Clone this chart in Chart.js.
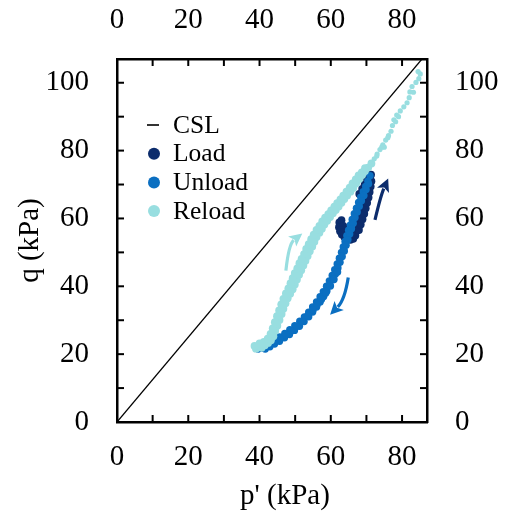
<!DOCTYPE html>
<html><head><meta charset="utf-8">
<script src="https://cdn.jsdelivr.net/npm/chart.js@4/dist/chart.umd.min.js"></script>
<style>html,body{margin:0;padding:0;background:#fff}#wrap{width:510px;height:515px;position:relative}</style>
</head><body><div id="wrap"><canvas id="c"></canvas></div>
<script>
// ---- data (p' and q in kPa) ----
const xTicksMajor = [0, 20, 40, 60, 80];
const yTicksMajor = [0, 20, 40, 60, 80, 100];
const seriesNames = ['CSL', 'Load', 'Unload', 'Reload'];

const cslP = [0, 90];
const cslQ = [0, 112.5];

const loadP = [62.4,62.3,62.6,63.1,63.8,64.6,65.5,66.3,66.9,67.3,67.7,68.1,68.6,69.0,69.4,69.8,70.1,70.4,70.7,71.0,71.3,
  63.0,63.5,64.4,66.0,67.9,68.4,68.9,69.4,69.8,70.2,70.6,70.9,71.2,71.4,68.0,68.8,69.5,70.2,62.9,63.6,65.0];
const loadQ = [58.8,57.4,56.2,55.3,54.5,54.0,53.7,54.0,55.0,56.4,57.9,59.4,60.9,62.5,64.0,65.6,67.2,68.8,70.4,71.9,72.9,
  59.5,57.8,55.2,55.2,56.6,58.2,59.8,61.4,63.0,64.6,66.2,67.8,69.4,71.0,67.2,68.7,70.0,71.5,56.6,56.0,54.6];

const unloadP = [71.0,70.4,69.8,69.1,68.4,67.8,67.2,66.6,66.0,65.5,65.0,64.5,64.0,63.5,63.0,62.4,61.8,61.1,60.4,59.6,58.8,57.9,57.0,56.0,54.9,53.8,52.6,51.3,49.9,48.5,47.1,45.7,44.3,43.0,41.7,40.5,39.6,
  70.6,69.9,69.3,68.6,68.0,67.4,66.8,66.3,65.8,65.3,64.8,64.3,63.8,63.2,62.6,62.0,61.3,60.5,59.7,58.9,58.0,57.0,56.0,54.9,53.8,52.5,51.2,49.8,48.4,47.0,45.6,44.2,42.9,41.6,
  61.9,60.9,59.9,58.6,57.4,56.2,55.0,53.6,52.0,50.4,48.9,47.3,45.7,44.0];
const unloadQ = [72.6,71.0,69.4,67.9,66.3,64.7,63.0,61.4,59.7,58.1,56.5,54.9,53.2,51.6,50.0,48.3,46.6,44.9,43.2,41.6,40.0,38.4,36.9,35.4,33.9,32.4,31.0,29.7,28.4,27.2,26.1,25.1,24.1,23.2,22.5,21.9,21.5,
  70.2,68.5,66.8,65.2,63.6,61.9,60.3,58.6,57.0,55.4,53.7,52.1,50.4,48.8,47.1,45.4,43.6,41.9,40.3,38.6,37.0,35.4,33.9,32.4,31.0,29.6,28.2,27.0,25.8,24.8,23.8,23.0,22.2,21.5,
  44.2,42.0,40.1,38.0,36.2,34.6,33.0,31.4,29.6,28.2,26.8,25.7,24.6,23.5];

const reloadP = [39.0,39.8,40.6,41.5,42.4,43.2,43.9,44.4,45.0,45.6,46.2,46.7,47.3,47.9,48.6,49.3,49.9,50.5,51.1,51.7,52.3,52.9,53.5,54.1,54.8,55.4,56.0,56.8,57.5,58.2,59.0,59.8,60.6,61.4,62.2,63.0,63.8,64.6,65.5,66.3,67.1,68.0,68.8,69.6,70.5,71.4,72.2,73.0,73.8,74.6,75.4,76.2,76.9,77.3,77.7,78.5,79.5,80.5,81.4,82.0,82.2,82.8,83.9,84.7,85.1,84.5,
  38.6,40.0,41.2,42.3,43.1,43.7,44.3,44.9,45.5,46.1,46.7,47.4,48.1,48.7,49.3,49.9,50.6,51.2,51.8,52.5,53.1,53.8,54.5,55.2,56.0,56.8,57.6,58.4,59.3,60.1,61.0,61.8,62.7,63.5,64.4,65.3,66.1,67.0,67.8,68.7,69.6,
  72.9,74.3,75.0,76.0,78.2,79.0,83.2];
const reloadQ = [21.6,22.4,21.9,22.6,23.3,24.1,25.3,26.9,28.4,30.1,31.8,33.4,35.0,36.5,37.8,39.1,40.5,42.0,43.4,44.7,46.1,47.5,48.9,50.3,51.7,53.1,54.5,55.8,57.0,58.2,59.3,60.4,61.5,62.5,63.5,64.6,65.7,66.8,67.9,69.0,70.3,71.6,72.8,74.0,75.0,76.2,77.6,79.0,80.3,81.7,83.1,84.4,85.7,87.4,89.1,90.5,91.7,92.9,94.1,95.6,97.3,98.9,100.1,101.2,102.6,103.3,
  22.4,23.2,23.6,24.6,26.0,27.6,29.4,31.2,32.9,34.7,36.3,37.9,39.4,40.9,42.4,43.9,45.3,46.8,48.1,49.5,51.0,52.4,53.9,55.2,56.6,57.8,59.1,60.2,61.3,62.4,63.5,64.5,65.6,66.7,67.9,69.1,70.3,71.5,72.7,73.6,74.8,
  78.4,81.0,81.0,83.8,88.5,90.0,97.2];

// direction arrows (data coordinates: tail, control, tip)
const arrowLoad   = [[72.4, 59.6], [74.0, 66.7], [76.1, 71.8]];
const arrowUnload = [[64.9, 42.6], [63.9, 36.0], [59.8, 31.6]];
const arrowReload = [[47.4, 44.6], [48.2, 52.4], [52.0, 55.6]];

const colors = { csl: '#000000', load: '#0c2c6c', unload: '#0b6fc1', reload: '#98dee0' };
const FONT = "'Liberation Serif', 'Times New Roman', serif";

const pts = (xs, ys) => xs.map((x, i) => ({ x, y: ys[i] }));

const inwardTicks = {
  id: 'inwardTicks',
  afterDraw(chart) {
    const ctx = chart.ctx, a = chart.chartArea, TL = 7;
    ctx.save();
    ctx.strokeStyle = '#000'; ctx.lineWidth = 2;
    ['x', 'x2', 'y', 'y2'].forEach(id => {
      const s = chart.scales[id];
      s.ticks.forEach(t => {
        if (t.value <= s.min || t.value >= s.max) return;
        const p = s.getPixelForValue(t.value);
        ctx.beginPath();
        if (id === 'x') { ctx.moveTo(p, a.bottom); ctx.lineTo(p, a.bottom - TL); }
        if (id === 'x2') { ctx.moveTo(p, a.top); ctx.lineTo(p, a.top + TL); }
        if (id === 'y') { ctx.moveTo(a.left, p); ctx.lineTo(a.left + TL, p); }
        if (id === 'y2') { ctx.moveTo(a.right, p); ctx.lineTo(a.right - TL, p); }
        ctx.stroke();
      });
    });
    ctx.restore();
  }
};

const arrows = {
  id: 'arrows',
  afterDatasetsDraw(chart) {
    const ctx = chart.ctx, xs = chart.scales.x, ys = chart.scales.y;
    const px = v => [xs.getPixelForValue(v[0]), ys.getPixelForValue(v[1])];
    [[arrowLoad, colors.load], [arrowUnload, colors.unload], [arrowReload, colors.reload]].forEach(([arr, col]) => {
      const [t, c, h] = arr.map(px);
      const ang = Math.atan2(h[1] - c[1], h[0] - c[0]);
      const L = 13, W = 6.5;
      const bx = h[0] - L * Math.cos(ang), by = h[1] - L * Math.sin(ang);
      ctx.save();
      ctx.strokeStyle = col; ctx.fillStyle = col; ctx.lineWidth = 3.2; ctx.lineCap = 'butt';
      ctx.beginPath(); ctx.moveTo(t[0], t[1]);
      ctx.quadraticCurveTo(c[0], c[1], bx + 2 * Math.cos(ang), by + 2 * Math.sin(ang));
      ctx.stroke();
      ctx.beginPath();
      ctx.moveTo(h[0], h[1]);
      ctx.lineTo(bx + W * Math.sin(ang), by - W * Math.cos(ang));
      ctx.lineTo(bx + 3 * Math.cos(ang), by + 3 * Math.sin(ang));
      ctx.lineTo(bx - W * Math.sin(ang), by + W * Math.cos(ang));
      ctx.closePath(); ctx.fill();
      ctx.restore();
    });
  }
};

const legendInside = {
  id: 'legendInside',
  afterDraw(chart) {
    const ctx = chart.ctx, a = chart.chartArea;
    const cx = a.left + 37, tx = a.left + 56, y0 = a.top + 66, gap = 28.7;
    ctx.save();
    ctx.font = "25.5px " + FONT; ctx.textBaseline = 'middle'; ctx.textAlign = 'left';
    chart.data.datasets.forEach((ds, i) => {
      const y = y0 + i * gap;
      if (ds.type === 'line') {
        ctx.strokeStyle = ds.borderColor; ctx.lineWidth = 1.6;
        ctx.beginPath(); ctx.moveTo(cx - 7, y); ctx.lineTo(cx + 5, y); ctx.stroke();
      } else {
        ctx.fillStyle = ds.backgroundColor;
        ctx.beginPath(); ctx.arc(cx, y, 6, 0, Math.PI * 2); ctx.fill();
      }
      ctx.fillStyle = '#000';
      ctx.fillText(ds.label, tx, y + 1);
    });
    ctx.restore();
  }
};

const xTitle = {
  id: 'xTitle',
  afterDraw(chart) {
    const ctx = chart.ctx, a = chart.chartArea;
    ctx.save();
    ctx.font = "29px " + FONT; ctx.fillStyle = '#000';
    ctx.textAlign = 'center'; ctx.textBaseline = 'middle';
    ctx.fillText("p' (kPa)", (a.left + a.right) / 2 + 13, chart.height - 19);
    ctx.restore();
  }
};

const tickFont = { family: FONT, size: 29 };
const labelEvery20 = v => (v % 20 === 0 ? String(v) : '');
const dotSize = c => (c.raw && c.raw.y > 77 ? 2.6 : 3.9);

new Chart(document.getElementById('c'), {
  type: 'scatter',
  data: {
    datasets: [
      { type: 'line', label: seriesNames[0], data: pts(cslP, cslQ), borderColor: colors.csl, borderWidth: 1.3,
        pointRadius: 0, fill: false, order: 4, xAxisID: 'x', yAxisID: 'y' },
      { label: seriesNames[1], data: pts(loadP, loadQ), backgroundColor: colors.load, borderWidth: 0,
        pointRadius: 3.9, order: 3, xAxisID: 'x', yAxisID: 'y' },
      { label: seriesNames[2], data: pts(unloadP, unloadQ), backgroundColor: colors.unload, borderWidth: 0,
        pointRadius: 3.7, order: 2, xAxisID: 'x', yAxisID: 'y' },
      { label: seriesNames[3], data: pts(reloadP, reloadQ), backgroundColor: colors.reload, borderWidth: 0,
        pointRadius: dotSize, order: 1, xAxisID: 'x', yAxisID: 'y' }
    ]
  },
  options: {
    responsive: true, maintainAspectRatio: false, animation: false,
    layout: { padding: 0 },
    plugins: { legend: { display: false }, tooltip: { enabled: false } },
    scales: {
      x: { type: 'linear', position: 'bottom', min: 0, max: 87,
        ticks: { stepSize: 10, autoSkip: false, includeBounds: false, callback: labelEvery20, font: tickFont, color: '#000', padding: 18, maxRotation: 0 },
        grid: { drawOnChartArea: false, drawTicks: false },
        border: { display: true, color: '#000', width: 2.5 },
        afterFit: s => { s.height = 93; } },
      x2: { type: 'linear', position: 'top', min: 0, max: 87,
        ticks: { stepSize: 10, autoSkip: false, includeBounds: false, callback: labelEvery20, font: tickFont, color: '#000', padding: 21, maxRotation: 0 },
        grid: { drawOnChartArea: false, drawTicks: false },
        border: { display: true, color: '#000', width: 2.5 },
        afterFit: s => { s.height = 59; } },
      y: { type: 'linear', position: 'left', min: 0, max: 107,
        ticks: { stepSize: 10, autoSkip: false, includeBounds: false, callback: labelEvery20, font: tickFont, color: '#000', padding: 28 },
        grid: { drawOnChartArea: false, drawTicks: false },
        border: { display: true, color: '#000', width: 2.5 },
        title: { display: true, text: 'q (kPa)', font: tickFont, color: '#000', padding: { top: 13, bottom: 0 } },
        afterFit: s => { s.width = 117; } },
      y2: { type: 'linear', position: 'right', min: 0, max: 107,
        ticks: { stepSize: 10, autoSkip: false, includeBounds: false, callback: labelEvery20, font: tickFont, color: '#000', padding: 28 },
        grid: { drawOnChartArea: false, drawTicks: false },
        border: { display: true, color: '#000', width: 2.5 },
        afterFit: s => { s.width = 83; } }
    }
  },
  plugins: [arrows, inwardTicks, legendInside, xTitle]
});
</script>
</body></html>
